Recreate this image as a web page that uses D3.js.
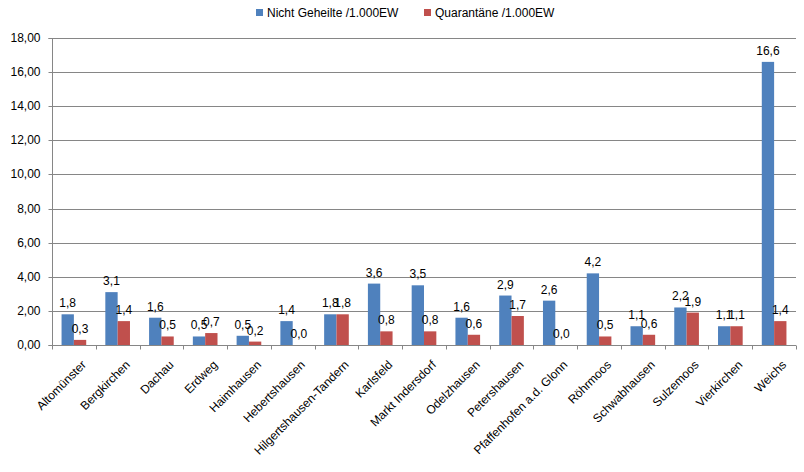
<!DOCTYPE html>
<html>
<head>
<meta charset="utf-8">
<script src="https://cdn.jsdelivr.net/npm/d3@7"></script>
<style>
  body { margin: 0; background: #fff; }
  svg { display: block; font-family: "Liberation Sans", Arial, sans-serif; }
</style>
</head>
<body>
<svg id="chart" width="804" height="472"></svg>
<script>
// data
const gemeinden = ["Altomünster", "Bergkirchen", "Dachau", "Erdweg", "Haimhausen",
    "Hebertshausen", "Hilgertshausen-Tandern", "Karlsfeld", "Markt Indersdorf",
    "Odelzhausen", "Petershausen", "Pfaffenhofen a.d. Glonn", "Röhrmoos",
    "Schwabhausen", "Sulzemoos", "Vierkirchen", "Weichs"];
const nichtGeheilte = [1.8, 3.1, 1.6, 0.5, 0.54, 1.4, 1.8, 3.6, 3.5, 1.6, 2.9, 2.6, 4.2, 1.1, 2.2, 1.1, 16.6];
const quarantaene = [0.3, 1.4, 0.5, 0.7, 0.2, 0.0, 1.8, 0.8, 0.8, 0.6, 1.7, 0.0, 0.5, 0.6, 1.9, 1.1, 1.4];
const yTicks = [0, 2, 4, 6, 8, 10, 12, 14, 16, 18];

const seriesNames = ["Nicht Geheilte /1.000EW", "Quarantäne /1.000EW"],
    seriesColors = ["#4F81BD", "#C0504D"],
    seriesValues = [nichtGeheilte, quarantaene];

const margin = { left: 52, right: 8, top: 38, bottom: 127 },
    width = 804, height = 472,
    gridColor = "#868686",
    font = "12px";

let svg = d3.select("#chart");

let x = d3.scaleBand()
    .domain(gemeinden)
    .range([margin.left, width - margin.right])
    .paddingInner(0).paddingOuter(0);

let bw = x.bandwidth(), barW = bw / 3.55;

let xs = d3.scaleBand()
    .domain([0, 1])
    .range([bw / 2 - barW, bw / 2 + barW]);

let y = d3.scaleLinear()
    .domain([0, 18])
    .range([height - margin.bottom, margin.top]);

const fmt = v => d3.format(".2f")(v).replace(".", ",");
const fmt1 = v => d3.format(".1f")(v).replace(".", ",");

// gridlines
svg.append("g").selectAll("line")
    .data(yTicks.filter(d => d > 0)).enter()
    .append("line")
    .attr("x1", margin.left).attr("x2", width - margin.right)
    .attr("y1", d => Math.round(y(d)) + 0.5).attr("y2", d => Math.round(y(d)) + 0.5)
    .attr("stroke", gridColor).attr("stroke-width", 1);

// y axis
let yAxis = svg.append("g")
    .attr("transform", "translate(" + (margin.left + 0.5) + ",0)")
    .call(d3.axisLeft(y).tickValues(yTicks).tickFormat(fmt).tickSize(4).tickPadding(8));
yAxis.selectAll("text").style("font-size", font).attr("fill", "#000");
yAxis.selectAll("line,path").attr("stroke", gridColor);
yAxis.select(".domain").attr("d", "M-4," + (Math.round(y(18)) + 0.5) + "H0V" + (Math.round(y(0)) + 0.5) + "H-4");
yAxis.selectAll(".tick").attr("transform", d => "translate(0," + (Math.round(y(d)) + 0.5) + ")");

// bars
let groups = svg.append("g").selectAll("g")
    .data(gemeinden).enter()
    .append("g")
    .attr("transform", d => "translate(" + x(d) + ",0)");

groups.each(function (name, i) {
    let g = d3.select(this);
    seriesValues.forEach((vals, s) => {
        let v = vals[i];
        g.append("rect")
            .attr("x", xs(s)).attr("width", xs.bandwidth())
            .attr("y", y(v)).attr("height", y(0) - y(v))
            .attr("fill", seriesColors[s]);
    });
    seriesValues.forEach((vals, s) => {
        let v = vals[i];
        g.append("text")
            .attr("x", xs(s) + xs.bandwidth() / 2)
            .attr("y", y(v) - 7)
            .attr("text-anchor", "middle")
            .style("font-size", font)
            .attr("fill", "#000")
            .text(fmt1(v));
    });
});

// x axis
let xAxis = svg.append("g")
    .attr("transform", "translate(0," + (Math.round(y(0)) + 0.5) + ")");
xAxis.append("line")
    .attr("x1", margin.left).attr("x2", width - margin.right)
    .attr("stroke", gridColor);
xAxis.selectAll(".xtick")
    .data(gemeinden.concat(["_end"])).enter()
    .append("line")
    .attr("x1", (d, i) => Math.round(margin.left + i * bw) + 0.5)
    .attr("x2", (d, i) => Math.round(margin.left + i * bw) + 0.5)
    .attr("y1", 0).attr("y2", 4)
    .attr("stroke", gridColor);
xAxis.selectAll(".xlabel")
    .data(gemeinden).enter()
    .append("text")
    .attr("text-anchor", "end")
    .style("font-size", font)
    .attr("fill", "#000")
    .attr("transform", d => "translate(" + (x(d) + bw / 2 + 10) + ",17) rotate(-45)")
    .attr("dy", "0.35em")
    .text(d => d);

// legend
let legend = svg.append("g").attr("class", "legend");
let lx = [256, 424];
seriesNames.forEach((n, s) => {
    legend.append("rect")
        .attr("x", lx[s]).attr("y", 9)
        .attr("width", 7).attr("height", 7)
        .attr("fill", seriesColors[s]);
    legend.append("text")
        .attr("x", lx[s] + 11).attr("y", 16.5)
        .style("font-size", font)
        .attr("fill", "#000")
        .text(n);
});
</script>
</body>
</html>
